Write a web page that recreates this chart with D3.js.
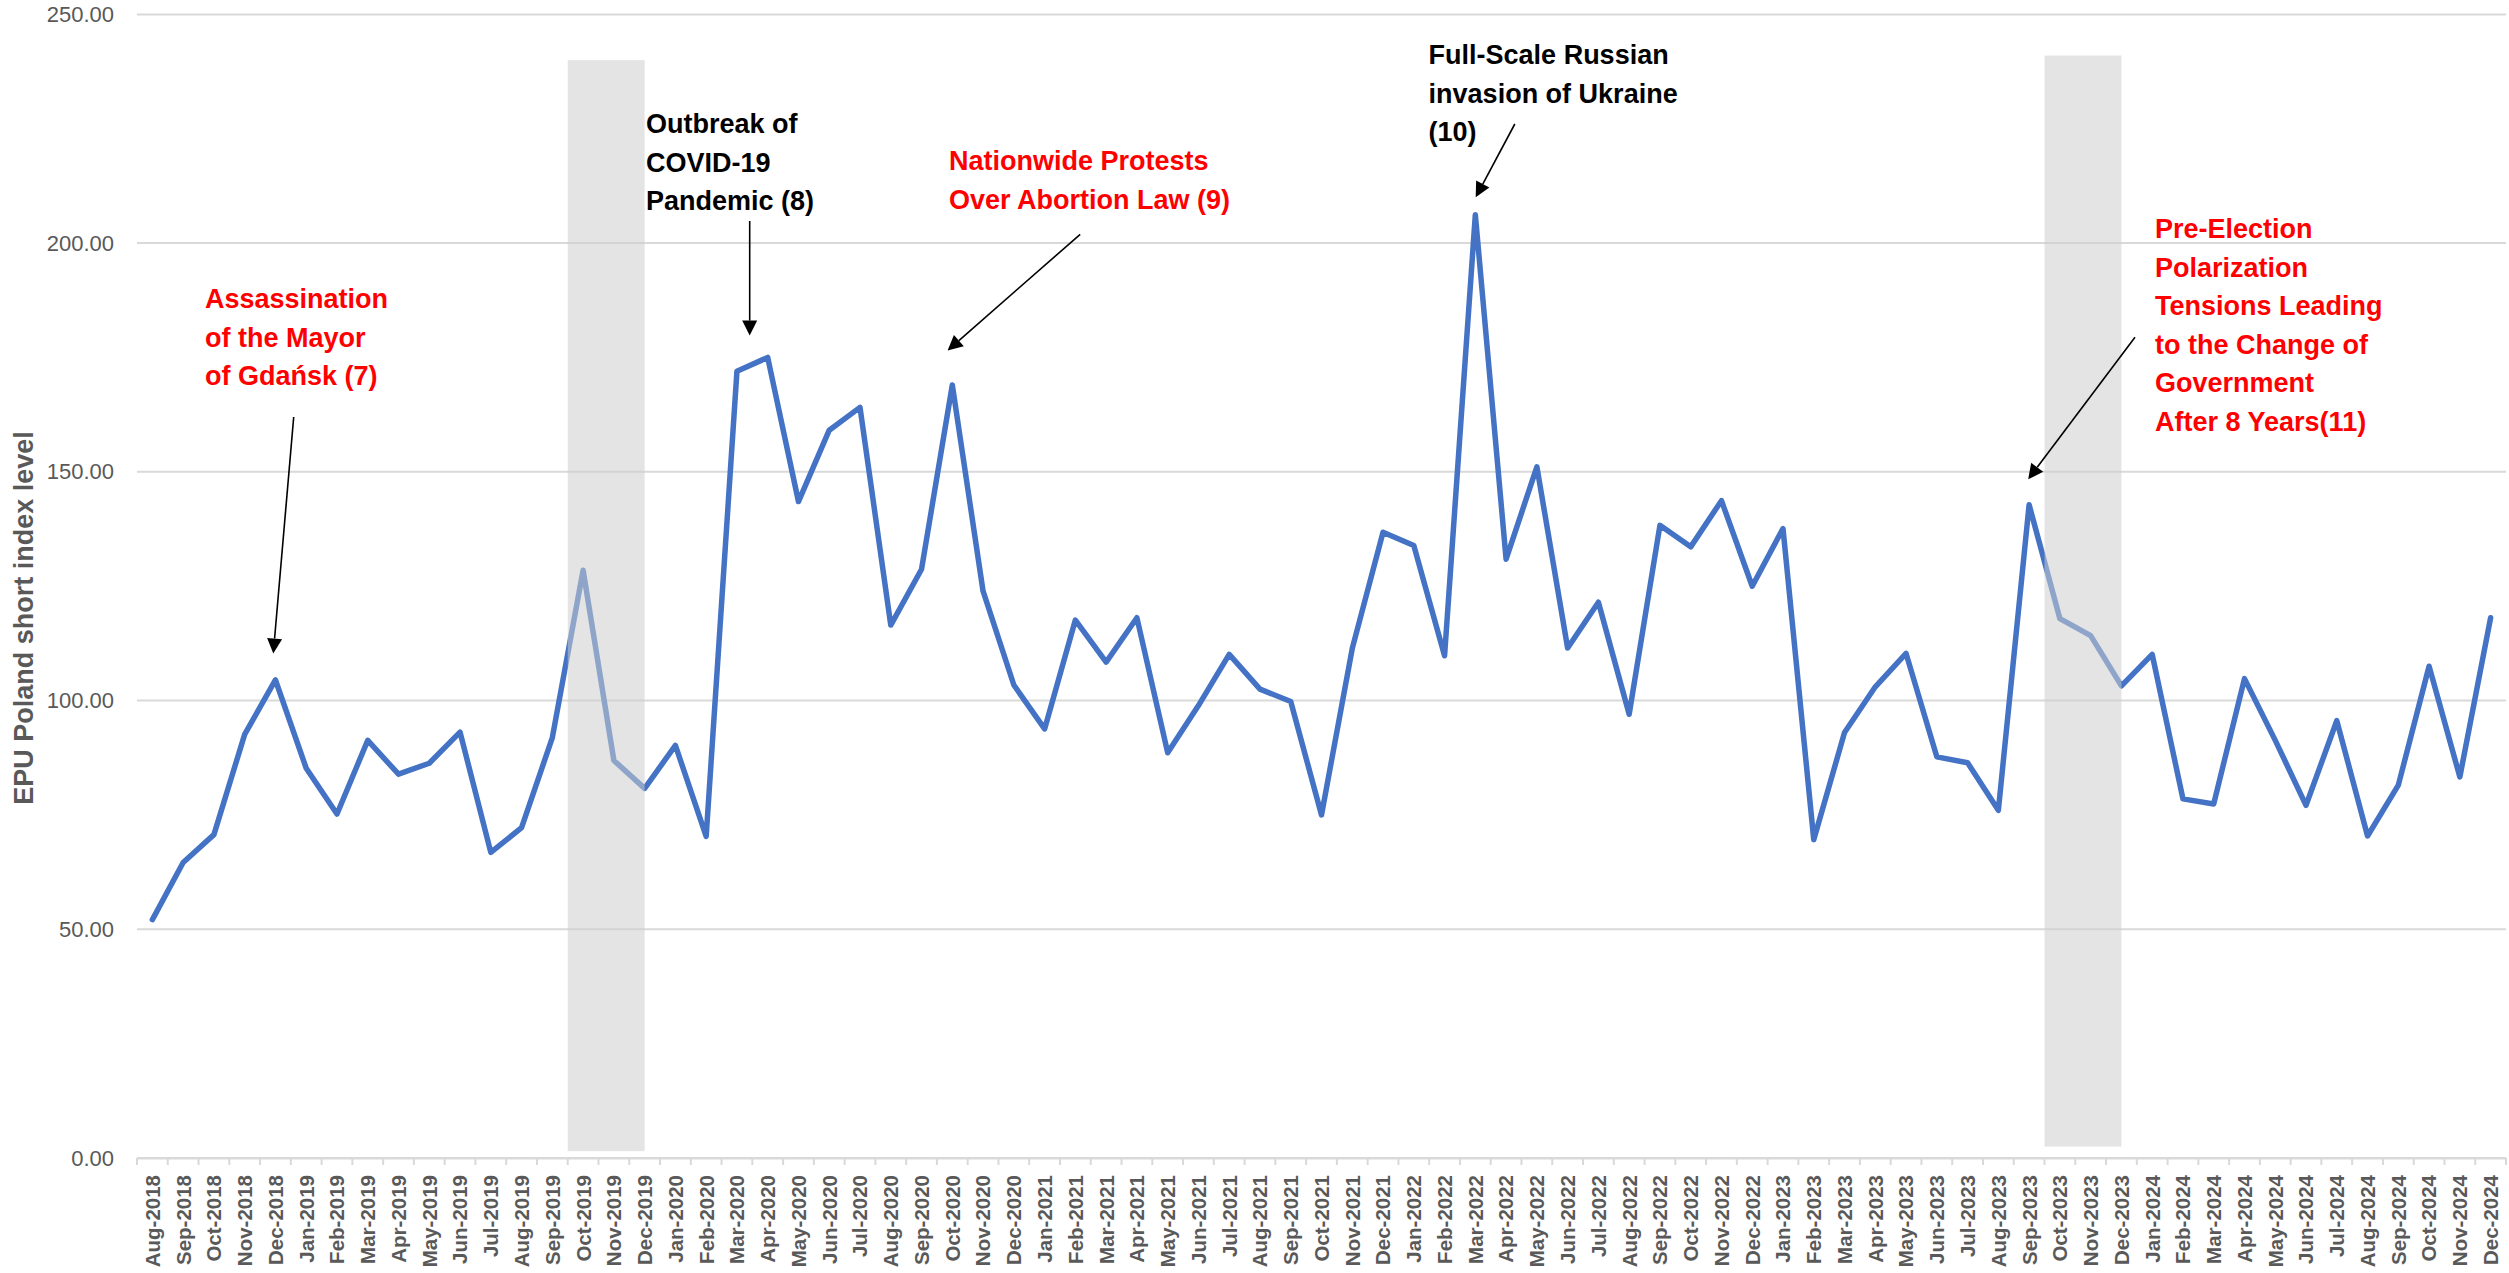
<!DOCTYPE html>
<html>
<head>
<meta charset="utf-8">
<script src="https://cdn.jsdelivr.net/npm/d3@7"></script>
<style>
  html, body { margin: 0; padding: 0; background: #ffffff; }
  svg { display: block; }
</style>
</head>
<body>
<svg id="chart" width="2509" height="1273"></svg>
<script>
// ---------------- DATA ----------------
const months = [
  "Aug-2018","Sep-2018","Oct-2018","Nov-2018","Dec-2018",
  "Jan-2019","Feb-2019","Mar-2019","Apr-2019","May-2019","Jun-2019","Jul-2019","Aug-2019","Sep-2019","Oct-2019","Nov-2019","Dec-2019",
  "Jan-2020","Feb-2020","Mar-2020","Apr-2020","May-2020","Jun-2020","Jul-2020","Aug-2020","Sep-2020","Oct-2020","Nov-2020","Dec-2020",
  "Jan-2021","Feb-2021","Mar-2021","Apr-2021","May-2021","Jun-2021","Jul-2021","Aug-2021","Sep-2021","Oct-2021","Nov-2021","Dec-2021",
  "Jan-2022","Feb-2022","Mar-2022","Apr-2022","May-2022","Jun-2022","Jul-2022","Aug-2022","Sep-2022","Oct-2022","Nov-2022","Dec-2022",
  "Jan-2023","Feb-2023","Mar-2023","Apr-2023","May-2023","Jun-2023","Jul-2023","Aug-2023","Sep-2023","Oct-2023","Nov-2023","Dec-2023",
  "Jan-2024","Feb-2024","Mar-2024","Apr-2024","May-2024","Jun-2024","Jul-2024","Aug-2024","Sep-2024","Oct-2024","Nov-2024","Dec-2024"
];

const epuValues = [
  52.1, 64.6, 70.7, 92.6, 104.5,
  85.2, 75.2, 91.3, 83.9, 86.3, 93.1, 66.8, 72.2, 91.9, 128.5, 86.9, 80.8,
  90.2, 70.3, 172.0, 175.0, 143.5, 159.1, 164.1, 116.5, 128.7, 169.0, 123.9, 103.4,
  93.8, 117.6, 108.4, 118.1, 88.6, 98.9, 110.1, 102.5, 99.8, 75.0, 111.4, 136.8,
  133.9, 109.8, 206.2, 130.9, 151.1, 111.5, 121.5, 97.0, 138.3, 133.6, 143.7, 125.0,
  137.6, 69.6, 93.0, 103.0, 110.3, 87.7, 86.4, 76.0, 142.8, 117.9, 114.2, 103.2,
  110.1, 78.5, 77.4, 104.8, 91.3, 77.1, 95.6, 70.4, 81.5, 107.5, 83.3, 118.1
];

const yTicks = [0, 50, 100, 150, 200, 250];
const yTitle = "EPU Poland short index level";

// shaded periods: first month, last month, lower and upper value
const shadeFrom = ["Oct-2019", "Oct-2023"];
const shadeTo   = ["Dec-2019", "Dec-2023"];
const shadeLow  = [1.5, 2.5];
const shadeHigh = [240, 241];

// annotation texts
const annotationLines = [
  ["Assassination", "of the Mayor", "of Gdańsk (7)"],
  ["Outbreak of", "COVID-19", "Pandemic (8)"],
  ["Nationwide Protests", "Over Abortion Law (9)"],
  ["Full-Scale Russian", "invasion of Ukraine", "(10)"],
  ["Pre-Election", "Polarization", "Tensions Leading", "to the Change of", "Government", "After 8 Years(11)"]
];
const annotationColors = ["#FF0000", "#000000", "#FF0000", "#000000", "#FF0000"];

// ---------------- LAYOUT ----------------
const plotLeft = 137, plotRight = 2506, plotTop = 14.4, plotBottom = 1158;

const svg = d3.select("#chart");

const x = d3.scaleBand().domain(months).range([plotLeft, plotRight]).padding(0);
const y = d3.scaleLinear().domain([0, 250]).range([plotBottom, plotTop]);
const cx = m => x(m) + x.bandwidth() / 2;

// gridlines
svg.append("g")
  .selectAll("line")
  .data(yTicks)
  .join("line")
  .attr("x1", plotLeft).attr("x2", plotRight)
  .attr("y1", d => y(d)).attr("y2", d => y(d))
  .attr("stroke", "#d9d9d9")
  .attr("stroke-width", 2);

// y axis labels
const yAxis = d3.axisLeft(y).tickValues(yTicks).tickFormat(d3.format(".2f")).tickSize(0).tickPadding(23);
const gy = svg.append("g").attr("transform", `translate(${plotLeft},0)`).call(yAxis);
gy.select(".domain").remove();
gy.selectAll("text")
  .attr("fill", "#595959")
  .style("font-family", "'Liberation Sans', Arial, sans-serif")
  .style("font-size", "22px");

// x axis
const xAxis = d3.axisBottom(x).tickSize(0).tickPadding(0);
const gx = svg.append("g").attr("transform", `translate(0,${plotBottom})`).call(xAxis);
gx.select(".domain").attr("stroke", "#d9d9d9").attr("stroke-width", 2);
gx.selectAll(".tick line").remove();
gx.selectAll(".tick text")
  .attr("fill", "#595959")
  .style("font-family", "'Liberation Sans', Arial, sans-serif")
  .style("font-weight", "bold")
  .style("font-size", "20.5px")
  .attr("text-anchor", "end")
  .attr("transform", "translate(0,17) rotate(-90)")
  .attr("x", 0).attr("y", 0).attr("dy", "0.36em");

// band-boundary tick marks
const boundaries = months.map(m => x(m)).concat([x(months[months.length - 1]) + x.bandwidth()]);
svg.append("g")
  .selectAll("line")
  .data(boundaries)
  .join("line")
  .attr("x1", d => d).attr("x2", d => d)
  .attr("y1", plotBottom).attr("y2", plotBottom + 7)
  .attr("stroke", "#d9d9d9")
  .attr("stroke-width", 2);

// y axis title
svg.append("text")
  .attr("transform", `translate(33,618) rotate(-90)`)
  .attr("text-anchor", "middle")
  .attr("fill", "#595959")
  .style("font-family", "'Liberation Sans', Arial, sans-serif")
  .style("font-weight", "bold")
  .style("font-size", "27px")
  .text(yTitle);

// line
const line = d3.line()
  .x((d, i) => cx(months[i]))
  .y(d => y(d));

svg.append("path")
  .datum(epuValues)
  .attr("d", line)
  .attr("fill", "none")
  .attr("stroke", "#4472C4")
  .attr("stroke-width", 5.5)
  .attr("stroke-linejoin", "round")
  .attr("stroke-linecap", "round");

// shaded periods (semi-transparent, drawn over the line)
svg.append("g")
  .selectAll("rect")
  .data(shadeFrom.map((f, i) => ({ from: f, to: shadeTo[i], lo: shadeLow[i], hi: shadeHigh[i] })))
  .join("rect")
  .attr("x", d => x(d.from))
  .attr("width", d => cx(d.to) - x(d.from))
  .attr("y", d => y(d.hi))
  .attr("height", d => y(d.lo) - y(d.hi))
  .attr("fill", "#cdcdcd")
  .attr("fill-opacity", 0.55);

// annotations
const annLayout = [
  { tx: 205,    ty: 308, from: [293.7, 417],   to: [273.3, 653.5] },
  { tx: 646,    ty: 133, from: [749.7, 221],   to: [749.7, 335.6] },
  { tx: 949,    ty: 170, from: [1080.2, 234.3], to: [947.6, 350.5] },
  { tx: 1428.6, ty: 64,  from: [1514.8, 124],  to: [1475.7, 197.3] },
  { tx: 2155,   ty: 238, from: [2135, 337.3],  to: [2028.2, 479.3] }
];
const lineGap = 38.5;

annotationLines.forEach((lines, k) => {
  const L = annLayout[k];
  const t = svg.append("text")
    .attr("fill", annotationColors[k])
    .style("font-family", "'Liberation Sans', Arial, sans-serif")
    .style("font-weight", "bold")
    .style("font-size", "27px");
  lines.forEach((s, j) => {
    t.append("tspan").attr("x", L.tx).attr("y", L.ty + j * lineGap).text(s);
  });

  const [x1, y1] = L.from, [x2, y2] = L.to;
  const dxv = x2 - x1, dyv = y2 - y1;
  const len = Math.hypot(dxv, dyv);
  const ux = dxv / len, uy = dyv / len;
  const headL = 15, headW = 7.5;
  const bx = x2 - ux * headL, by = y2 - uy * headL;
  svg.append("line")
    .attr("x1", x1).attr("y1", y1).attr("x2", bx).attr("y2", by)
    .attr("stroke", "#000").attr("stroke-width", 1.6);
  svg.append("path")
    .attr("d", `M${x2},${y2}L${bx - uy * headW},${by + ux * headW}L${bx + uy * headW},${by - ux * headW}Z`)
    .attr("fill", "#000");
});
</script>
</body>
</html>
